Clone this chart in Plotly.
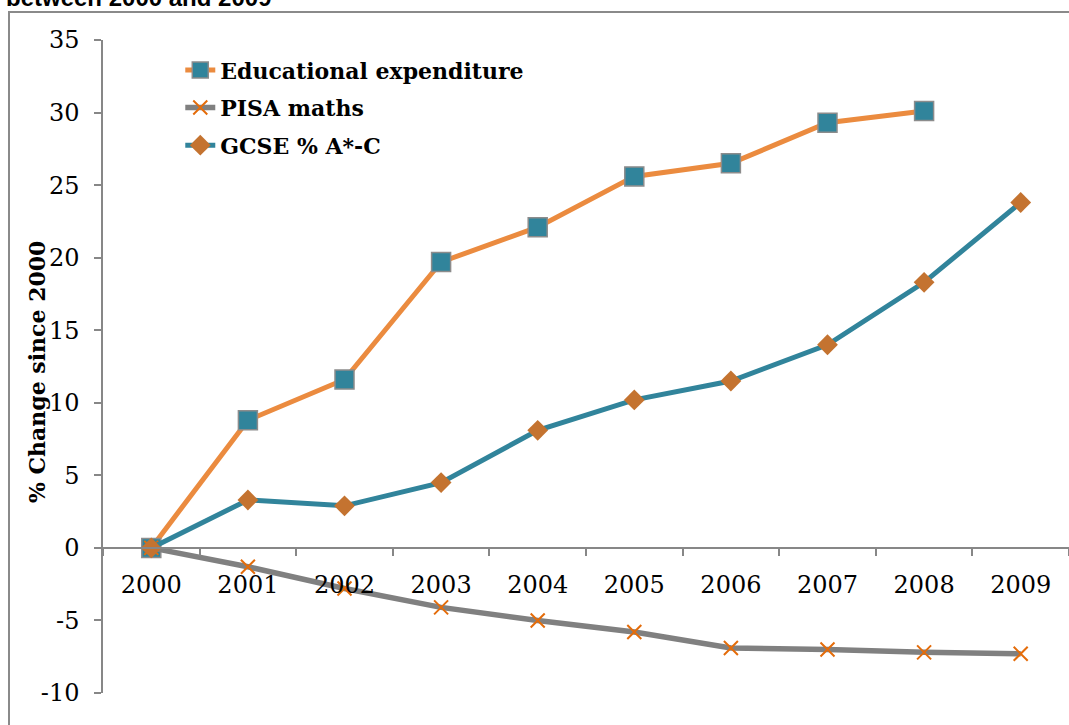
import plotly.graph_objects as go

years = ["2000", "2001", "2002", "2003", "2004", "2005", "2006", "2007", "2008", "2009"]
edu_exp = [0, 8.8, 11.6, 19.7, 22.1, 25.6, 26.5, 29.3, 30.1, None]
pisa_maths = [0, -1.3, -2.8, -4.1, -5.0, -5.8, -6.9, -7.0, -7.2, -7.3]
gcse = [0, 3.3, 2.9, 4.5, 8.1, 10.2, 11.5, 14.0, 18.3, 23.8]
y_ticks = [-10, -5, 0, 5, 10, 15, 20, 25, 30, 35]
y_tick_labels = ["-10", "-5", "0", "5", "10", "15", "20", "25", "30", "35"]

AX = "#878787"
SERIF = "DejaVu Serif"

fig = go.Figure()
fig.add_trace(go.Scatter(
    x=years, y=edu_exp, name="Educational expenditure", mode="lines+markers",
    line=dict(color="#EB8B3F", width=5),
    marker=dict(symbol="square", size=19, color="#31849B", line=dict(color="#8C8C8C", width=1.5)),
    legendgroup="a"))
fig.add_trace(go.Scatter(
    x=years, y=pisa_maths, name="PISA maths", mode="lines+markers",
    line=dict(color="#808080", width=5.5),
    marker=dict(symbol="x-thin", size=14, color="#E46C0A", line=dict(color="#E46C0A", width=2)),
    legendgroup="b"))
fig.add_trace(go.Scatter(
    x=years, y=gcse, name="GCSE % A*-C", mode="lines+markers",
    line=dict(color="#31849B", width=5),
    marker=dict(symbol="diamond", size=16, color="#C47330", line=dict(color="#C47330", width=0)),
    legendgroup="c"))

fig.update_layout(
    width=1069, height=725,
    margin=dict(l=103, r=0, t=40, b=32, autoexpand=False),
    paper_bgcolor="white", plot_bgcolor="white",
    font=dict(family=SERIF, size=24, color="black"),
    showlegend=True,
    legend=dict(x=0.080, y=0.986, xanchor="left", yanchor="top",
                font=dict(family=SERIF, size=22, color="black", weight="bold"),
                bgcolor="rgba(0,0,0,0)", tracegroupgap=6, traceorder="grouped"),
    xaxis=dict(type="category", categoryorder="array", categoryarray=years,
               range=[-0.5, 9.5], anchor="free", position=10 / 45, automargin=False,
               showline=True, linecolor=AX, linewidth=1.5,
               ticks="outside", ticklen=7, tickcolor=AX, tickwidth=1.5,
               tickson="boundaries", showgrid=False, zeroline=False,
               ticklabelstandoff=16, tickfont=dict(family=SERIF, size=24)),
    yaxis=dict(range=[-10, 35], tickvals=y_ticks, ticktext=y_tick_labels, automargin=False,
               showline=True, linecolor=AX, linewidth=1.5,
               ticks="outside", ticklen=7, tickcolor=AX, tickwidth=1.5,
               showgrid=False, zeroline=False, ticklabelstandoff=10,
               tickfont=dict(family=SERIF, size=24)),
    shapes=[dict(type="rect", xref="paper", yref="paper",
                 x0=(9 - 103) / 966, x1=1.05, y0=-0.2, y1=(693 - 12) / 653,
                 line=dict(color="#8A8A8A", width=2), fillcolor="rgba(0,0,0,0)", layer="below")],
    annotations=[
        dict(text="between 2000 and 2009", xref="paper", yref="paper",
             x=(4 - 103) / 966, y=(693 + 3) / 653, xanchor="left", yanchor="middle",
             showarrow=False,
             font=dict(family="Liberation Sans", size=24, color="black", weight="bold")),
        dict(text="% Change since 2000", xref="paper", yref="paper",
             x=(37 - 103) / 966, y=(693 - 372) / 653, xanchor="center", yanchor="middle",
             textangle=-90, showarrow=False,
             font=dict(family=SERIF, size=22, color="black", weight="bold")),
    ],
)

fig.write_html("out.html", config={"displayModeBar": False},
               post_script="document.body.style.margin='0';")
